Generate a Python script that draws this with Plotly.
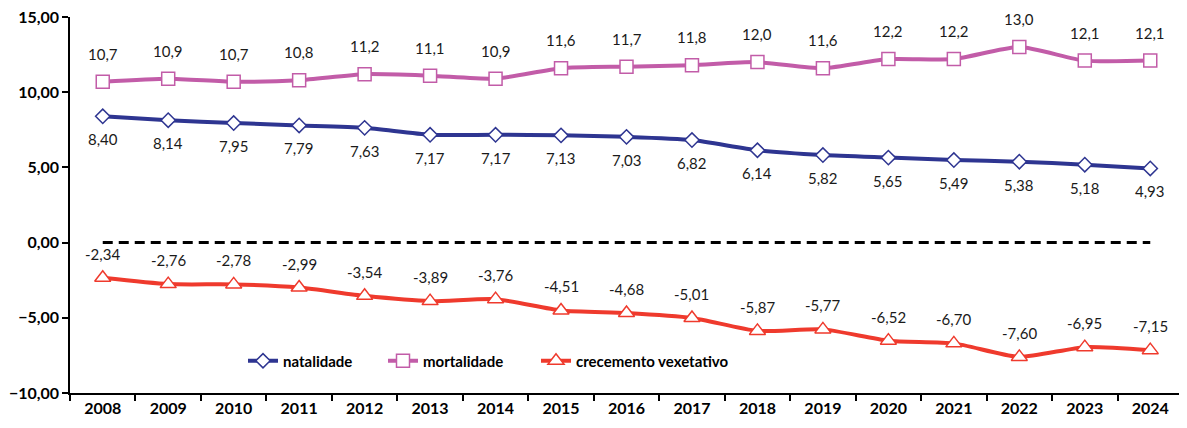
import plotly.graph_objects as go

years = [str(y) for y in range(2008, 2025)]
natalidade = [8.40, 8.14, 7.95, 7.79, 7.63, 7.17, 7.17, 7.13, 7.03, 6.82, 6.14, 5.82, 5.65, 5.49, 5.38, 5.18, 4.93]
mortalidade = [10.7, 10.9, 10.7, 10.8, 11.2, 11.1, 10.9, 11.6, 11.7, 11.8, 12.0, 11.6, 12.2, 12.2, 13.0, 12.1, 12.1]
crecemento = [-2.34, -2.76, -2.78, -2.99, -3.54, -3.89, -3.76, -4.51, -4.68, -5.01, -5.87, -5.77, -6.52, -6.70, -7.60, -6.95, -7.15]
zero_line = [0.0] * len(years)

NAVY = "#2E3591"
PINK = "#C25CA8"
RED = "#EF3A2D"
FONT = "Lato"

# page body has an 8px margin; size the figure so the plot lands where the reference has it
W, H = 1179, 420
ML, MR, MT, MB = 62, 4, 9, 35
PW = W - ML - MR
PH = H - MT - MB

fig = go.Figure()

fig.add_trace(go.Scatter(x=years, y=zero_line, mode="lines", showlegend=False,
                         line=dict(color="black", width=3, dash="10px,6px")))

fig.add_trace(go.Scatter(x=years, y=natalidade, name="natalidade", mode="lines+markers",
                         legend="legend",
                         line=dict(color=NAVY, width=4, shape="spline", smoothing=0.6),
                         marker=dict(symbol="diamond", size=11, color="white",
                                     line=dict(color=NAVY, width=1.5))))
fig.add_trace(go.Scatter(x=years, y=mortalidade, name="mortalidade", mode="lines+markers",
                         legend="legend2",
                         line=dict(color=PINK, width=4, shape="spline", smoothing=0.6),
                         marker=dict(symbol="square", size=13, color="white",
                                     line=dict(color=PINK, width=1.5))))
fig.add_trace(go.Scatter(x=years, y=crecemento, name="crecemento vexetativo", mode="lines+markers",
                         legend="legend3",
                         line=dict(color=RED, width=4, shape="spline", smoothing=0.6),
                         marker=dict(symbol="triangle-up", size=14, color="white",
                                     line=dict(color=RED, width=1.5))))

def fmt(v, d):
    return f"{v:.{d}f}".replace(".", ",")

lab_font = dict(family=FONT, size=15, color="#1a1a1a")
annotations = []
for i, v in enumerate(mortalidade):
    annotations.append(dict(x=i, y=v, xref="x", yref="y", text=fmt(v, 1), showarrow=False,
                            yshift=28, font=lab_font))
for i, v in enumerate(natalidade):
    annotations.append(dict(x=i, y=v, xref="x", yref="y", text=fmt(v, 2), showarrow=False,
                            yshift=-23, font=lab_font))
for i, v in enumerate(crecemento):
    annotations.append(dict(x=i, y=v, xref="x", yref="y", text=fmt(v, 2), showarrow=False,
                            yshift=24, font=lab_font))

def leg(px):
    return dict(orientation="h", x=(px - 8 - ML) / PW, y=(H - MB - (361 - 8)) / PH,
                xanchor="left", yanchor="middle",
                font=dict(family=FONT, size=15, color="black", weight="bold"),
                bgcolor="rgba(0,0,0,0)", itemwidth=30)

fig.update_layout(
    width=W, height=H,
    margin=dict(l=ML, r=MR, t=MT, b=MB, autoexpand=False),
    paper_bgcolor="white", plot_bgcolor="white",
    separators=",.",
    font=dict(family=FONT, color="black"),
    annotations=annotations,
    showlegend=True,
    legend=leg(243),
    legend2=leg(383),
    legend3=leg(536),
)
fig.update_xaxes(type="category", range=[-0.5, 16.5], tickson="boundaries", ticks="outside",
                 ticklen=6, tickcolor="black", tickwidth=1.5, showline=True, linecolor="black",
                 linewidth=1.5, showgrid=False, zeroline=False, automargin=False,
                 tickfont=dict(family=FONT, size=16, color="black", weight="bold"))
fig.update_yaxes(range=[-10, 15], dtick=5, tick0=0, tickformat=".2f", ticks="outside",
                 ticklen=6, tickcolor="black", tickwidth=1.5, showline=True, linecolor="black",
                 linewidth=1.5, showgrid=False, zeroline=False, ticklabeloverflow="allow",
                 automargin=False,
                 tickfont=dict(family=FONT, size=16, color="black", weight="bold"))

fig.write_html("out.html")
